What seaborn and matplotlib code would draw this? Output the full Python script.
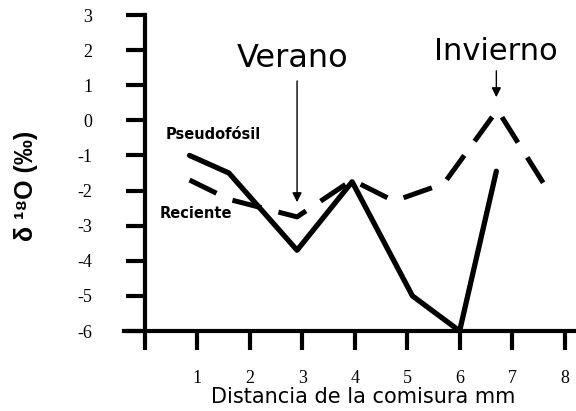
import numpy as np
import pandas as pd
import seaborn as sns
import matplotlib.pyplot as plt

# valores
dist_pseudo = [0.85, 1.6, 2.9, 3.95, 5.1, 6.0, 6.7]
d18o_pseudo = [-1.0, -1.5, -3.7, -1.75, -5.0, -6.0, -1.45]
dist_rec = [0.85, 1.6, 2.9, 3.95, 4.75, 5.7, 6.72, 7.77]
d18o_rec = [-1.7, -2.25, -2.75, -1.7, -2.3, -1.8, 0.3, -2.2]
xticks = [0, 1, 2, 3, 4, 5, 6, 7, 8]
xtick_labels = ["", "1", "2", "3", "4", "5", "6", "7", "8"]
yticks = [-6, -5, -4, -3, -2, -1, 0, 1, 2, 3]

pseudo = pd.DataFrame({"dist": dist_pseudo, "d18o": d18o_pseudo})
rec = pd.DataFrame({"dist": dist_rec, "d18o": d18o_rec})

sns.set_style("ticks")
plt.rcParams["font.family"] = ["DejaVu Sans"]
plt.rcParams["axes.unicode_minus"] = False
plt.rcParams["text.color"] = "black"
plt.rcParams["axes.labelcolor"] = "black"
plt.rcParams["xtick.labelcolor"] = "black"
plt.rcParams["ytick.labelcolor"] = "black"

fig = plt.figure(figsize=(5.76, 4.11), dpi=100)
ax = fig.add_axes([124 / 576, 80 / 411, 451 / 576, 316 / 411])

sns.lineplot(data=pseudo, x="dist", y="d18o", color="black", linewidth=3.8,
             estimator=None, sort=False, ax=ax, clip_on=False)
sns.lineplot(data=rec, x="dist", y="d18o", color="black", linewidth=3.6,
             estimator=None, sort=False, ax=ax, clip_on=False,
             dashes=False, linestyle=(0, (6, 3.5)))

ax.set_xlim(-0.4, 8.2)
ax.set_ylim(-6, 3)

for s in ["top", "right"]:
    ax.spines[s].set_visible(False)
ax.spines["left"].set_position(("data", 0))
for s in ["left", "bottom"]:
    ax.spines[s].set_linewidth(3)
    ax.spines[s].set_color("black")

ax.set_xticks(xticks)
ax.set_xticklabels(xtick_labels)
ax.set_yticks(yticks)
ax.tick_params(axis="both", direction="out", length=14, width=3, color="black")
ax.tick_params(axis="x", pad=14)
ax.tick_params(axis="y", pad=24)
for lab in ax.get_xticklabels() + ax.get_yticklabels():
    lab.set_family(["Liberation Serif", "DejaVu Serif"])
    lab.set_fontsize(13)
    lab.set_color("black")

ax.set_xlabel("Distancia de la comisura mm", fontsize=15)
ax.xaxis.set_label_coords(0.53, -0.178)
ax.set_ylabel("δ ¹⁸O (‰)", fontsize=18, fontweight="bold",
              family=["Liberation Sans", "DejaVu Sans"])
ax.yaxis.set_label_coords(-0.19, 0.46)

ax.text(1.31, -0.39, "Pseudofósil", fontsize=10.5, fontweight="bold",
        ha="center", va="center")
ax.text(0.97, -2.64, "Reciente", fontsize=10.5, fontweight="bold",
        ha="center", va="center")

ax.text(2.82, 1.77, "Verano", fontsize=23, ha="center", va="center")
ax.annotate("", xy=(2.9, -2.41), xytext=(2.9, 1.2),
            arrowprops=dict(arrowstyle="-|>", color="black", lw=1,
                            mutation_scale=14), annotation_clip=False)
ax.text(6.69, 1.95, "Invierno", fontsize=22, ha="center", va="center")
ax.annotate("", xy=(6.7, 0.58), xytext=(6.7, 1.49),
            arrowprops=dict(arrowstyle="-|>", color="black", lw=1,
                            mutation_scale=14), annotation_clip=False)

plt.savefig("out.png", dpi=100)
